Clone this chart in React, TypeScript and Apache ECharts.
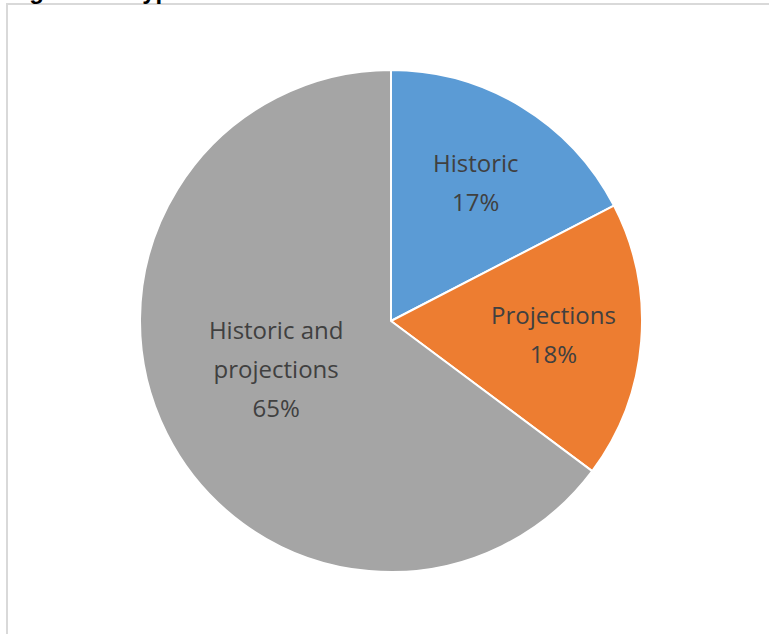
import React, { useEffect, useRef } from "react";
import * as echarts from "echarts";

const categories = ["Historic", "Projections", "Historic and\nprojections"];
const shares = [17.4, 17.8, 64.8];
const sliceColors = ["#5B9BD5", "#ED7D31", "#A5A5A5"];
const titleText = "Figure 12: Types of data used";

export default function App() {
  const ref = useRef<HTMLDivElement>(null);
  useEffect(() => {
    if (!ref.current) return;
    const chart = echarts.init(ref.current, null, { renderer: "svg" });
    const font = "'Open Sans', 'Noto Sans', sans-serif";
    const labelStyle = {
      color: "#404040",
      fontFamily: font,
      fontSize: 24,
      lineHeight: 39,
      align: "center" as const,
    };
    const fmt = (p: any) => `${p.name}\n${Math.round(p.percent)}%`;
    const data = categories.map((name, i) => ({
      name,
      value: shares[i],
      itemStyle: { color: sliceColors[i] },
    }));
    chart.setOption({
      animation: false,
      backgroundColor: "#ffffff",
      graphic: [
        {
          type: "rect",
          shape: { x: 7, y: 4, width: 900, height: 800 },
          style: { fill: "#ffffff", stroke: "#d9d9d9", lineWidth: 2 },
          z: -10,
        },
        {
          type: "text",
          x: 8,
          y: 2,
          style: {
            text: titleText,
            fill: "#000000",
            font: "bold 24px 'Liberation Sans', sans-serif",
            verticalAlign: "bottom",
          },
          z: 10,
        },
      ],
      series: [
        {
          type: "pie",
          center: [391, 321],
          radius: [0, 251],
          startAngle: 90,
          clockwise: true,
          silent: true,
          itemStyle: { borderColor: "#ffffff", borderWidth: 2 },
          label: { show: true, position: "inside", formatter: fmt, ...labelStyle },
          labelLine: { show: false },
          labelLayout: { dy: -10 },
          data: data.map((d, i) => ({
            ...d,
            label: { show: i === 2 },
          })),
        },
        {
          type: "pie",
          center: [391, 321],
          radius: [70, 250],
          startAngle: 90,
          clockwise: true,
          silent: true,
          itemStyle: { color: "rgba(0,0,0,0)", borderWidth: 0 },
          label: { show: true, position: "inside", formatter: fmt, ...labelStyle },
          labelLine: { show: false },
          data: data.map((d, i) => ({
            name: d.name,
            value: d.value,
            itemStyle: { color: "rgba(0,0,0,0)" },
            label: { show: i !== 2 },
          })),
          z: 5,
        },
      ],
    });
    return () => chart.dispose();
  }, []);
  return (
    <div
      ref={ref}
      style={{ position: "fixed", left: 0, top: 0, width: 769, height: 634 }}
    />
  );
}
